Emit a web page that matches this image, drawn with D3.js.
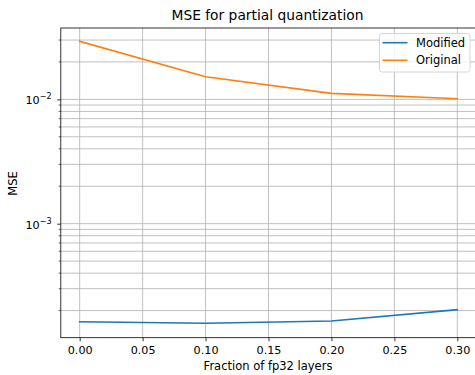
<!DOCTYPE html>
<html>
<head>
<meta charset="utf-8">
<script src="https://cdn.jsdelivr.net/npm/d3@7"></script>
<style>
  body { margin: 0; background: #fff; }
  svg { display: block; font-family: "DejaVu Sans", sans-serif; }
</style>
</head>
<body>
<div class="container"></div>
<script>
// data
const fractions = [0.0, 0.1, 0.2, 0.3];
const modified = [1.627e-4, 1.58e-4, 1.649e-4, 2.032e-4];
const original = [0.02928, 0.01521, 0.01118, 0.01012];
const xTicks = [0.0, 0.05, 0.1, 0.15, 0.2, 0.25, 0.3];
const yMajor = [1e-3, 1e-2];
const seriesNames = ["Modified", "Original"];
const seriesColors = ["#1f77b4", "#ff7f0e"];

const w = 475, h = 375;
const plotLeft = 60.8, plotRight = 476.2, plotTop = 28, plotBottom = 337.7;

const xScale = d3.scaleLinear().domain([-0.015, 0.315]).range([plotLeft, plotRight]);
const yScale = d3.scaleLog().domain([1.21e-4, 0.0375]).range([plotBottom, plotTop]);

/* minor ticks 2..9 of every decade inside the domain */
let yMinor = [];
[1e-4, 1e-3, 1e-2].forEach((dec) => {
    for (let k = 2; k <= 9; k++) {
        let v = dec * k;
        if (v >= yScale.domain()[0] && v <= yScale.domain()[1]) yMinor.push(v);
    }
});

const svg = d3.select(".container")
              .append("svg")
              .attr("width", w)
              .attr("height", h);

const plot = svg.append("g");

/* grid */
plot.selectAll(".ygrid")
    .data(yMinor.concat(yMajor))
    .enter()
    .append("line")
    .attr("x1", plotLeft).attr("x2", plotRight)
    .attr("y1", (d) => yScale(d)).attr("y2", (d) => yScale(d))
    .attr("stroke", "#b0b0b0")
    .attr("stroke-width", 0.8);

plot.selectAll(".xgrid")
    .data(xTicks)
    .enter()
    .append("line")
    .attr("x1", (d) => xScale(d)).attr("x2", (d) => xScale(d))
    .attr("y1", plotTop).attr("y2", plotBottom)
    .attr("stroke", "#b0b0b0")
    .attr("stroke-width", 0.8);

/* lines */
const line = d3.line()
               .x((d, i) => xScale(fractions[i]))
               .y((d) => yScale(d));

[modified, original].forEach((s, i) => {
    plot.append("path")
        .datum(s)
        .attr("d", line)
        .attr("fill", "none")
        .attr("stroke", seriesColors[i])
        .attr("stroke-width", 1.6)
        .attr("stroke-linejoin", "round")
        .attr("stroke-linecap", "square");
});

/* spines */
svg.append("rect")
   .attr("x", plotLeft).attr("y", plotTop)
   .attr("width", plotRight - plotLeft).attr("height", plotBottom - plotTop)
   .attr("fill", "none")
   .attr("stroke", "#000")
   .attr("stroke-width", 0.8);

/* x axis */
const xAxis = d3.axisBottom(xScale)
                .tickValues(xTicks)
                .tickFormat(d3.format(".2f"))
                .tickSize(3.6)
                .tickPadding(4.5);
const gx = svg.append("g")
   .attr("transform", `translate(0, ${plotBottom})`)
   .call(xAxis);
gx.select(".domain").remove();
gx.selectAll("line").attr("stroke-width", 0.8);
gx.selectAll("text").attr("font-size", 11.2).attr("fill", "#000")
  .attr("font-family", "DejaVu Sans");

/* y axis: minor ticks */
svg.selectAll(".yminor")
   .data(yMinor)
   .enter()
   .append("line")
   .attr("x1", plotLeft - 2.1).attr("x2", plotLeft)
   .attr("y1", (d) => yScale(d)).attr("y2", (d) => yScale(d))
   .attr("stroke", "#000")
   .attr("stroke-width", 0.6);

/* y axis: major ticks with 10^n labels */
const yAxis = d3.axisLeft(yScale)
                .tickValues(yMajor)
                .tickFormat("")
                .tickSize(3.6);
const gy = svg.append("g")
   .attr("transform", `translate(${plotLeft}, 0)`)
   .call(yAxis);
gy.select(".domain").remove();
gy.selectAll("line").attr("stroke-width", 0.8);

const ylab = svg.selectAll(".ylab")
   .data(yMajor)
   .enter()
   .append("text")
   .attr("x", 51.5)
   .attr("y", (d) => yScale(d) + 5)
   .attr("text-anchor", "end")
   .attr("font-size", 11.2);
ylab.append("tspan").text("10");
ylab.append("tspan")
    .attr("font-size", 8)
    .attr("dy", -5)
    .text((d) => "\u2212" + Math.round(-Math.log10(d)));

/* labels */
svg.append("text")
   .attr("x", (plotLeft + plotRight) / 2 - 1)
   .attr("y", 20)
   .attr("text-anchor", "middle")
   .attr("font-size", 13.8)
   .text("MSE for partial quantization");

svg.append("text")
   .attr("x", (plotLeft + plotRight) / 2 - 0.5)
   .attr("y", 370)
   .attr("text-anchor", "middle")
   .attr("font-size", 11.5)
   .text("Fraction of fp32 layers");

svg.append("text")
   .attr("transform", "translate(17, 183.5) rotate(-90)")
   .attr("text-anchor", "middle")
   .attr("font-size", 11.5)
   .text("MSE");

/* legend */
const legend = svg.append("g").attr("id", "legend");
legend.append("rect")
      .attr("x", 379.5).attr("y", 33.5)
      .attr("width", 90.5).attr("height", 38.5)
      .attr("rx", 2.5)
      .attr("fill", "#fff").attr("fill-opacity", 0.8)
      .attr("stroke", "#cccccc").attr("stroke-width", 0.8);

seriesNames.forEach((name, i) => {
    let yy = 42.7 + i * 17.6;
    legend.append("line")
          .attr("x1", 382.5).attr("x2", 407.5)
          .attr("y1", yy).attr("y2", yy)
          .attr("stroke", seriesColors[i])
          .attr("stroke-width", 1.6);
    legend.append("text")
          .attr("x", 416)
          .attr("y", yy + 4)
          .attr("font-size", 11.5)
          .text(name);
});
</script>
</body>
</html>
